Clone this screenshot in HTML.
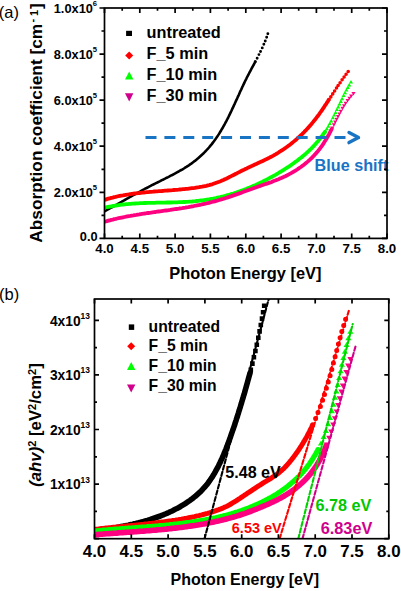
<!DOCTYPE html>
<html><head><meta charset="utf-8"><style>
html,body{margin:0;padding:0;background:#fff;}
svg{display:block;}
</style></head><body>
<svg width="401" height="591" viewBox="0 0 401 591">
<rect width="401" height="591" fill="#fff"/>
<defs><clipPath id="ca"><rect x="104.5" y="8.0" width="282.5" height="230.4"/></clipPath></defs>
<g clip-path="url(#ca)" fill="none" stroke-linecap="round" stroke-linejoin="round">
<path d="M104.5,211.3 L105.8,210.6 L107.1,209.9 L108.5,209.2 L109.8,208.4 L111.1,207.7 L112.4,207.0 L113.7,206.3 L115.0,205.5 L116.3,204.8 L117.6,204.1 L118.9,203.3 L120.2,202.6 L121.5,201.9 L122.8,201.1 L124.1,200.4 L125.4,199.6 L126.7,198.9 L128.0,198.2 L129.3,197.4 L130.7,196.7 L132.0,195.9 L133.3,195.2 L134.6,194.5 L135.9,193.7 L137.2,193.0 L138.6,192.3 L139.9,191.6 L141.2,190.8 L142.5,190.1 L143.9,189.4 L145.2,188.7 L146.6,188.0 L147.9,187.3 L149.2,186.6 L150.6,185.9 L151.9,185.2 L153.3,184.5 L154.6,183.8 L156.0,183.1 L157.3,182.5 L158.7,181.8 L160.1,181.1 L161.4,180.4 L162.8,179.8 L164.1,179.1 L165.5,178.4 L166.8,177.7 L168.1,177.1 L169.5,176.4 L170.8,175.7 L172.2,175.0 L173.5,174.3 L174.8,173.6 L176.1,172.9 L177.4,172.2 L178.7,171.5 L180.0,170.7 L181.3,170.0 L182.6,169.3 L183.9,168.5 L185.1,167.7 L186.4,166.9 L187.6,166.1 L188.9,165.3 L190.1,164.4 L191.3,163.6 L192.5,162.7 L193.7,161.8 L194.9,160.9 L196.1,159.9 L197.2,159.0 L198.4,158.0 L199.5,157.0 L200.6,156.0 L201.7,155.0 L202.8,154.0 L203.9,153.0 L204.9,151.9 L205.9,150.8 L207.0,149.7 L208.0,148.6 L209.0,147.5 L209.9,146.4 L210.9,145.2 L211.8,144.1 L212.7,142.9 L213.6,141.7 L214.5,140.5 L215.4,139.3 L216.2,138.1 L217.1,136.8 L217.9,135.6 L218.7,134.4 L219.5,133.1 L220.3,131.8 L221.1,130.5 L221.8,129.2 L222.6,128.0 L223.3,126.6 L224.1,125.3 L224.8,124.0 L225.5,122.7 L226.2,121.4 L226.9,120.0 L227.6,118.7 L228.3,117.3 L228.9,116.0 L229.6,114.6 L230.3,113.2 L230.9,111.9 L231.6,110.5 L232.2,109.1 L232.9,107.7 L233.5,106.4 L234.1,105.0 L234.8,103.6 L235.4,102.2 L236.0,100.8 L236.7,99.4 L237.3,98.1 L237.9,96.7 L238.6,95.3 L239.2,93.9 L239.8,92.5 L240.4,91.1 L241.1,89.8 L241.7,88.4 L242.3,87.0 L243.0,85.6 L243.6,84.3 L244.3,82.9 L244.9,81.5 L245.6,80.2 L246.3,78.8 L246.9,77.5 L247.6,76.2 L248.3,74.8 L249.0,73.5 L249.7,72.2 L250.4,70.9 L251.1,69.5 L251.8,68.2 L252.5,66.9 L253.2,65.6 L253.9,64.3 L254.6,63.0 L255.3,61.7" stroke="#000000" stroke-width="2.6"/><path d="M253.8,61.7a1.45,1.45 0 1,0 2.90,0a1.45,1.45 0 1,0 -2.90,0M255.7,58.2a1.45,1.45 0 1,0 2.90,0a1.45,1.45 0 1,0 -2.90,0M257.5,54.6a1.45,1.45 0 1,0 2.90,0a1.45,1.45 0 1,0 -2.90,0M259.1,51.5a1.45,1.45 0 1,0 2.90,0a1.45,1.45 0 1,0 -2.90,0M260.8,47.9a1.45,1.45 0 1,0 2.90,0a1.45,1.45 0 1,0 -2.90,0M262.4,44.3a1.45,1.45 0 1,0 2.90,0a1.45,1.45 0 1,0 -2.90,0M263.8,41.0a1.45,1.45 0 1,0 2.90,0a1.45,1.45 0 1,0 -2.90,0M265.2,37.2a1.45,1.45 0 1,0 2.90,0a1.45,1.45 0 1,0 -2.90,0M266.4,33.8a1.45,1.45 0 1,0 2.90,0a1.45,1.45 0 1,0 -2.90,0" fill="#000000" stroke="none"/>
<path d="M104.0,200.0 L105.5,199.6 L106.9,199.1 L108.3,198.7 L109.8,198.3 L111.2,197.9 L112.7,197.6 L114.1,197.2 L115.6,196.9 L117.0,196.5 L118.5,196.2 L120.0,195.9 L121.4,195.6 L122.9,195.4 L124.4,195.1 L125.9,194.8 L127.4,194.6 L128.8,194.4 L130.3,194.1 L131.8,193.9 L133.3,193.7 L134.8,193.5 L136.3,193.3 L137.8,193.1 L139.3,193.0 L140.8,192.8 L142.3,192.6 L143.8,192.5 L145.3,192.3 L146.8,192.2 L148.3,192.1 L149.8,191.9 L151.4,191.8 L152.9,191.7 L154.4,191.5 L155.9,191.4 L157.4,191.3 L158.9,191.2 L160.4,191.1 L161.9,191.0 L163.4,190.8 L164.9,190.7 L166.4,190.6 L167.9,190.5 L169.5,190.4 L171.0,190.3 L172.5,190.2 L174.0,190.0 L175.5,189.9 L177.0,189.8 L178.5,189.7 L179.9,189.5 L181.4,189.4 L182.9,189.2 L184.4,189.1 L185.9,188.9 L187.4,188.8 L188.9,188.6 L190.3,188.4 L191.8,188.2 L193.3,188.1 L194.7,187.9 L196.2,187.6 L197.7,187.4 L199.1,187.2 L200.6,186.9 L202.0,186.7 L203.5,186.4 L204.9,186.1 L206.3,185.8 L207.8,185.4 L209.2,185.1 L210.6,184.7 L212.1,184.3 L213.5,183.8 L214.9,183.3 L216.3,182.8 L217.7,182.3 L219.1,181.8 L220.6,181.2 L222.0,180.6 L223.4,180.0 L224.8,179.3 L226.2,178.7 L227.6,178.0 L228.9,177.3 L230.3,176.6 L231.7,175.9 L233.1,175.2 L234.5,174.5 L235.9,173.8 L237.2,173.1 L238.6,172.4 L240.0,171.7 L241.3,171.0 L242.7,170.3 L244.1,169.7 L245.4,169.0 L246.8,168.4 L248.1,167.7 L249.5,167.1 L250.8,166.4 L252.2,165.8 L253.5,165.2 L254.8,164.6 L256.2,164.0 L257.5,163.3 L258.8,162.7 L260.2,162.1 L261.5,161.5 L262.8,160.9 L264.1,160.3 L265.5,159.6 L266.8,159.0 L268.1,158.3 L269.4,157.7 L270.7,157.0 L272.0,156.3 L273.3,155.6 L274.6,154.8 L275.9,154.1 L277.2,153.3 L278.5,152.5 L279.7,151.7 L281.0,150.9 L282.2,150.1 L283.5,149.3 L284.7,148.4 L286.0,147.6 L287.2,146.7 L288.4,145.8 L289.6,144.9 L290.8,144.0 L292.0,143.0 L293.1,142.1 L294.3,141.1 L295.4,140.2 L296.6,139.2 L297.7,138.2 L298.8,137.2 L299.9,136.2 L301.0,135.1 L302.1,134.1 L303.1,133.1 L304.2,132.0 L305.2,130.9 L306.3,129.8 L307.3,128.7 L308.3,127.6 L309.3,126.5 L310.3,125.4 L311.3,124.2 L312.2,123.1 L313.2,121.9 L314.1,120.7 L315.1,119.6 L316.0,118.4 L316.9,117.2 L317.8,116.0 L318.7,114.8 L319.6,113.5 L320.4,112.3 L321.3,111.1 L322.2,109.8 L323.0,108.6 L323.9,107.4 L324.7,106.1 L325.5,104.8 L326.4,103.6 L327.2,102.3 L328.0,101.1 L328.8,99.8" stroke="#ff0000" stroke-width="3.8"/><path d="M327.0,99.8a1.80,1.80 0 1,0 3.60,0a1.80,1.80 0 1,0 -3.60,0M329.0,96.9a1.80,1.80 0 1,0 3.60,0a1.80,1.80 0 1,0 -3.60,0M330.9,93.9a1.80,1.80 0 1,0 3.60,0a1.80,1.80 0 1,0 -3.60,0M332.8,91.0a1.80,1.80 0 1,0 3.60,0a1.80,1.80 0 1,0 -3.60,0M334.7,88.0a1.80,1.80 0 1,0 3.60,0a1.80,1.80 0 1,0 -3.60,0M336.3,85.5a1.80,1.80 0 1,0 3.60,0a1.80,1.80 0 1,0 -3.60,0M338.3,82.7a1.80,1.80 0 1,0 3.60,0a1.80,1.80 0 1,0 -3.60,0M340.3,79.8a1.80,1.80 0 1,0 3.60,0a1.80,1.80 0 1,0 -3.60,0M342.3,77.0a1.80,1.80 0 1,0 3.60,0a1.80,1.80 0 1,0 -3.60,0M344.3,74.2a1.80,1.80 0 1,0 3.60,0a1.80,1.80 0 1,0 -3.60,0M346.4,71.5a1.80,1.80 0 1,0 3.60,0a1.80,1.80 0 1,0 -3.60,0" fill="#ff0000" stroke="none"/>
<path d="M103.9,207.9 L105.3,207.5 L106.8,207.2 L108.3,206.9 L109.8,206.6 L111.3,206.3 L112.7,206.0 L114.2,205.8 L115.7,205.5 L117.2,205.3 L118.7,205.1 L120.2,204.9 L121.7,204.7 L123.2,204.5 L124.7,204.4 L126.2,204.2 L127.7,204.1 L129.2,203.9 L130.7,203.8 L132.2,203.7 L133.7,203.6 L135.2,203.5 L136.7,203.4 L138.2,203.3 L139.7,203.2 L141.2,203.2 L142.7,203.1 L144.2,203.0 L145.7,203.0 L147.2,202.9 L148.7,202.9 L150.2,202.9 L151.7,202.8 L153.2,202.8 L154.7,202.8 L156.2,202.7 L157.8,202.7 L159.3,202.7 L160.8,202.7 L162.3,202.6 L163.8,202.6 L165.3,202.6 L166.8,202.5 L168.3,202.5 L169.8,202.5 L171.3,202.5 L172.8,202.4 L174.3,202.4 L175.8,202.3 L177.3,202.3 L178.8,202.2 L180.3,202.2 L181.8,202.1 L183.3,202.0 L184.8,202.0 L186.3,201.9 L187.8,201.8 L189.3,201.7 L190.8,201.6 L192.3,201.5 L193.8,201.3 L195.3,201.2 L196.8,201.0 L198.2,200.9 L199.7,200.7 L201.2,200.5 L202.7,200.3 L204.2,200.1 L205.6,199.9 L207.1,199.7 L208.6,199.5 L210.1,199.2 L211.5,198.9 L213.0,198.7 L214.5,198.4 L215.9,198.1 L217.4,197.7 L218.8,197.4 L220.3,197.1 L221.8,196.7 L223.2,196.4 L224.7,196.0 L226.1,195.6 L227.5,195.2 L229.0,194.8 L230.4,194.4 L231.9,193.9 L233.3,193.5 L234.7,193.0 L236.1,192.6 L237.6,192.1 L239.0,191.6 L240.4,191.1 L241.8,190.6 L243.2,190.1 L244.6,189.5 L246.0,189.0 L247.4,188.4 L248.8,187.9 L250.2,187.3 L251.6,186.7 L253.0,186.1 L254.4,185.5 L255.8,184.9 L257.1,184.3 L258.5,183.6 L259.9,183.0 L261.2,182.3 L262.6,181.7 L263.9,181.0 L265.3,180.3 L266.6,179.6 L268.0,178.9 L269.3,178.2 L270.6,177.5 L272.0,176.8 L273.3,176.0 L274.6,175.3 L275.9,174.6 L277.2,173.8 L278.5,173.0 L279.8,172.2 L281.1,171.5 L282.4,170.7 L283.7,169.9 L285.0,169.0 L286.3,168.2 L287.5,167.4 L288.8,166.6 L290.1,165.7 L291.3,164.9 L292.5,164.0 L293.8,163.1 L295.0,162.2 L296.2,161.4 L297.4,160.5 L298.6,159.5 L299.8,158.6 L301.0,157.7 L302.2,156.7 L303.3,155.8 L304.4,154.8 L305.6,153.9 L306.7,152.9 L307.8,151.9 L308.9,150.9 L309.9,149.8 L311.0,148.8 L312.0,147.8 L313.1,146.7 L314.1,145.6 L315.1,144.5 L316.1,143.4 L317.0,142.3 L318.0,141.2 L318.9,140.1 L319.8,138.9 L320.7,137.7 L321.6,136.5 L322.5,135.3 L323.3,134.1 L324.2,132.9 L325.0,131.7" stroke="#00ff00" stroke-width="3.8"/><path d="M325.0,129.8L327.1,133.2L322.9,133.2ZM326.8,126.8L328.9,130.2L324.7,130.2ZM328.3,124.2L330.4,127.7L326.2,127.7ZM329.8,121.6L331.9,125.1L327.7,125.1ZM331.2,119.0L333.3,122.4L329.1,122.4ZM332.9,115.9L334.9,119.3L330.8,119.3ZM334.2,113.2L336.3,116.6L332.1,116.6ZM335.6,110.4L337.6,113.9L333.5,113.9ZM336.9,107.7L339.0,111.1L334.8,111.1ZM338.2,105.0L340.3,108.4L336.1,108.4ZM339.5,102.2L341.6,105.6L337.4,105.6ZM340.8,99.5L342.9,102.9L338.7,102.9ZM342.1,96.8L344.2,100.2L340.0,100.2ZM343.6,93.6L345.7,97.0L341.5,97.0ZM345.0,90.9L347.1,94.3L342.9,94.3ZM346.4,88.2L348.4,91.6L344.3,91.6ZM347.8,85.6L349.9,89.0L345.7,89.0ZM349.2,83.0L351.3,86.4L347.1,86.4ZM351.0,80.0L353.0,83.4L348.9,83.4Z" fill="#00ff00" stroke="none"/>
<path d="M104.1,221.9 L105.5,221.5 L107.0,221.1 L108.4,220.7 L109.9,220.3 L111.3,219.9 L112.8,219.6 L114.2,219.2 L115.7,218.9 L117.2,218.5 L118.6,218.2 L120.1,217.9 L121.6,217.6 L123.0,217.3 L124.5,217.0 L126.0,216.7 L127.4,216.4 L128.9,216.1 L130.4,215.9 L131.9,215.6 L133.3,215.4 L134.8,215.1 L136.3,214.9 L137.8,214.6 L139.3,214.4 L140.7,214.1 L142.2,213.9 L143.7,213.7 L145.2,213.5 L146.7,213.2 L148.1,213.0 L149.6,212.8 L151.1,212.6 L152.6,212.4 L154.1,212.2 L155.6,212.0 L157.0,211.7 L158.5,211.5 L160.0,211.3 L161.5,211.1 L163.0,210.9 L164.5,210.7 L166.0,210.5 L167.5,210.3 L168.9,210.1 L170.4,209.9 L171.9,209.6 L173.4,209.4 L174.9,209.2 L176.4,209.0 L177.8,208.8 L179.3,208.5 L180.8,208.3 L182.3,208.1 L183.8,207.8 L185.3,207.6 L186.7,207.3 L188.2,207.1 L189.7,206.8 L191.2,206.5 L192.7,206.3 L194.1,206.0 L195.6,205.7 L197.1,205.4 L198.6,205.1 L200.1,204.8 L201.5,204.5 L203.0,204.1 L204.5,203.8 L205.9,203.5 L207.4,203.1 L208.9,202.8 L210.4,202.4 L211.8,202.0 L213.3,201.7 L214.8,201.3 L216.2,200.9 L217.7,200.5 L219.1,200.0 L220.6,199.6 L222.0,199.2 L223.5,198.7 L225.0,198.3 L226.4,197.8 L227.9,197.4 L229.3,196.9 L230.8,196.4 L232.2,195.9 L233.6,195.4 L235.1,194.9 L236.5,194.4 L238.0,193.9 L239.4,193.4 L240.8,192.9 L242.3,192.3 L243.7,191.8 L245.1,191.3 L246.5,190.8 L248.0,190.2 L249.4,189.7 L250.8,189.2 L252.2,188.7 L253.6,188.2 L255.0,187.7 L256.4,187.2 L257.8,186.7 L259.2,186.2 L260.6,185.8 L262.0,185.3 L263.4,184.8 L264.8,184.3 L266.2,183.8 L267.6,183.4 L269.0,182.9 L270.4,182.4 L271.7,181.9 L273.1,181.3 L274.5,180.8 L275.9,180.3 L277.2,179.7 L278.6,179.2 L279.9,178.6 L281.3,178.0 L282.6,177.4 L284.0,176.8 L285.3,176.2 L286.7,175.5 L288.0,174.8 L289.3,174.1 L290.7,173.4 L292.0,172.7 L293.3,171.9 L294.6,171.1 L295.9,170.3 L297.2,169.5 L298.4,168.7 L299.7,167.8 L300.9,167.0 L302.1,166.1 L303.3,165.2 L304.5,164.3 L305.7,163.3 L306.8,162.4 L308.0,161.4 L309.1,160.4 L310.2,159.4 L311.3,158.3 L312.3,157.3 L313.4,156.2 L314.4,155.1 L315.4,154.0 L316.4,152.9 L317.4,151.8 L318.3,150.6 L319.2,149.5 L320.1,148.3 L321.0,147.1 L321.9,145.9 L322.8,144.6 L323.6,143.4 L324.4,142.1 L325.2,140.8 L326.0,139.6 L326.8,138.2 L327.5,136.9 L328.3,135.6 L329.0,134.3 L329.7,132.9 L330.4,131.6 L331.1,130.2 L331.8,128.9" stroke="#ff0080" stroke-width="3.8"/><path d="M332.3,129.9L334.4,126.4L330.2,126.4ZM333.9,126.7L336.0,123.2L331.8,123.2ZM335.2,123.9L337.3,120.5L333.1,120.5ZM336.6,121.2L338.7,117.8L334.5,117.8ZM338.0,118.5L340.1,115.1L335.9,115.1ZM339.4,115.8L341.5,112.4L337.3,112.4ZM340.8,113.2L342.9,109.8L338.7,109.8ZM342.5,110.2L344.6,106.8L340.4,106.8ZM344.0,107.7L346.1,104.2L342.0,104.2ZM345.6,105.2L347.7,101.8L343.6,101.8ZM347.6,102.4L349.7,99.0L345.5,99.0ZM349.4,100.1L351.4,96.7L347.3,96.7ZM351.2,97.9L353.3,94.5L349.1,94.5ZM353.5,95.5L355.6,92.1L351.4,92.1Z" fill="#ff0080" stroke="none"/>
</g>
<line x1="145.5" y1="137.5" x2="346" y2="137.5" stroke="#1a74c4" stroke-width="3.2" stroke-dasharray="11 7.9"/>
<polyline points="349,132.6 358.5,137.6 349,142.6" fill="none" stroke="#1a74c4" stroke-width="3.4" stroke-linecap="round" stroke-linejoin="round"/>
<text x="314.6" y="171.3" font-family="Liberation Sans, sans-serif" font-size="16.2" font-weight="bold" fill="#1a74c4">Blue shift</text>
<g stroke="#000" stroke-width="1.7" fill="none">
<rect x="104.5" y="8.0" width="282.5" height="230.4"/>
<path d="M104.5,238.4v-5.0 M104.5,8.0v5.0 M122.2,238.4v-2.7 M122.2,8.0v2.7 M139.8,238.4v-5.0 M139.8,8.0v5.0 M157.5,238.4v-2.7 M157.5,8.0v2.7 M175.1,238.4v-5.0 M175.1,8.0v5.0 M192.8,238.4v-2.7 M192.8,8.0v2.7 M210.4,238.4v-5.0 M210.4,8.0v5.0 M228.1,238.4v-2.7 M228.1,8.0v2.7 M245.8,238.4v-5.0 M245.8,8.0v5.0 M263.4,238.4v-2.7 M263.4,8.0v2.7 M281.1,238.4v-5.0 M281.1,8.0v5.0 M298.7,238.4v-2.7 M298.7,8.0v2.7 M316.4,238.4v-5.0 M316.4,8.0v5.0 M334.0,238.4v-2.7 M334.0,8.0v2.7 M351.7,238.4v-5.0 M351.7,8.0v5.0 M369.3,238.4v-2.7 M369.3,8.0v2.7 M387.0,238.4v-5.0 M387.0,8.0v5.0 M104.5,238.4h-5.0 M387.0,238.4h-5.0 M104.5,215.4h-3.0 M387.0,215.4h-3.0 M104.5,192.3h-5.0 M387.0,192.3h-5.0 M104.5,169.3h-3.0 M387.0,169.3h-3.0 M104.5,146.2h-5.0 M387.0,146.2h-5.0 M104.5,123.2h-3.0 M387.0,123.2h-3.0 M104.5,100.2h-5.0 M387.0,100.2h-5.0 M104.5,77.1h-3.0 M387.0,77.1h-3.0 M104.5,54.1h-5.0 M387.0,54.1h-5.0 M104.5,31.0h-3.0 M387.0,31.0h-3.0 M104.5,8.0h-5.0 M387.0,8.0h-5.0"/>
</g>
<text x="104.5" y="252.9" font-family="Liberation Sans, sans-serif" font-size="13.3" font-weight="bold" text-anchor="middle">4.0</text>
<text x="139.8" y="252.9" font-family="Liberation Sans, sans-serif" font-size="13.3" font-weight="bold" text-anchor="middle">4.5</text>
<text x="175.1" y="252.9" font-family="Liberation Sans, sans-serif" font-size="13.3" font-weight="bold" text-anchor="middle">5.0</text>
<text x="210.4" y="252.9" font-family="Liberation Sans, sans-serif" font-size="13.3" font-weight="bold" text-anchor="middle">5.5</text>
<text x="245.8" y="252.9" font-family="Liberation Sans, sans-serif" font-size="13.3" font-weight="bold" text-anchor="middle">6.0</text>
<text x="281.1" y="252.9" font-family="Liberation Sans, sans-serif" font-size="13.3" font-weight="bold" text-anchor="middle">6.5</text>
<text x="316.4" y="252.9" font-family="Liberation Sans, sans-serif" font-size="13.3" font-weight="bold" text-anchor="middle">7.0</text>
<text x="351.7" y="252.9" font-family="Liberation Sans, sans-serif" font-size="13.3" font-weight="bold" text-anchor="middle">7.5</text>
<text x="387.0" y="252.9" font-family="Liberation Sans, sans-serif" font-size="13.3" font-weight="bold" text-anchor="middle">8.0</text>
<text x="97.6" y="240.8" font-family="Liberation Sans, sans-serif" font-size="12.8" font-weight="bold" text-anchor="end">0.0</text>
<text x="92.9" y="196.8" font-family="Liberation Sans, sans-serif" font-size="12.8" font-weight="bold" text-anchor="end">2.0x10</text>
<text x="92.8" y="190.0" font-family="Liberation Sans, sans-serif" font-size="7.6" font-weight="bold">5</text>
<text x="92.9" y="150.7" font-family="Liberation Sans, sans-serif" font-size="12.8" font-weight="bold" text-anchor="end">4.0x10</text>
<text x="92.8" y="143.9" font-family="Liberation Sans, sans-serif" font-size="7.6" font-weight="bold">5</text>
<text x="92.9" y="104.7" font-family="Liberation Sans, sans-serif" font-size="12.8" font-weight="bold" text-anchor="end">6.0x10</text>
<text x="92.8" y="97.9" font-family="Liberation Sans, sans-serif" font-size="7.6" font-weight="bold">5</text>
<text x="92.9" y="58.6" font-family="Liberation Sans, sans-serif" font-size="12.8" font-weight="bold" text-anchor="end">8.0x10</text>
<text x="92.8" y="51.8" font-family="Liberation Sans, sans-serif" font-size="7.6" font-weight="bold">5</text>
<text x="92.9" y="12.5" font-family="Liberation Sans, sans-serif" font-size="12.8" font-weight="bold" text-anchor="end">1.0x10</text>
<text x="92.8" y="5.7" font-family="Liberation Sans, sans-serif" font-size="7.6" font-weight="bold">6</text>
<text x="245.4" y="278.6" font-family="Liberation Sans, sans-serif" font-size="16.4" font-weight="bold" text-anchor="middle">Photon Energy [eV]</text>
<text transform="translate(42.1,242.7) rotate(-90)" font-family="Liberation Sans, sans-serif" font-size="17.3" font-weight="bold">Absorption coefficient [cm<tspan font-size="11" dx="1.2" dy="-6">-</tspan><tspan font-size="10.8" dx="3" dy="2">1</tspan><tspan dx="1" dy="4">]</tspan></text>
<text x="-1.2" y="17.6" font-family="Liberation Sans, sans-serif" font-size="16.5">(a)</text>
<rect x="126.1" y="30.8" width="5.9" height="5.2" fill="#000"/>
<path d="M129.2,51.5 L133.2,55.5 L129.2,59.5 L125.2,55.5Z" fill="#ff0000"/>
<path d="M129.2,71.5 L133.4,79.5 L125,79.5Z" fill="#00ff00"/>
<path d="M125,93.2 L133.4,93.2 L129.2,101.4Z" fill="#d0008c"/>
<text x="146.6" y="37.7" font-family="Liberation Sans, sans-serif" font-size="16.3" font-weight="bold">untreated</text>
<text x="146.6" y="58.9" font-family="Liberation Sans, sans-serif" font-size="16.3" font-weight="bold">F_5 min</text>
<text x="146.6" y="80.2" font-family="Liberation Sans, sans-serif" font-size="16.3" font-weight="bold">F_10 min</text>
<text x="146.6" y="100.9" font-family="Liberation Sans, sans-serif" font-size="16.3" font-weight="bold">F_30 min</text>
<svg x="0" y="0" width="401" height="591" overflow="visible">
<defs><clipPath id="cb"><rect x="94.5" y="299.0" width="294.3" height="239.7"/></clipPath></defs>
<g clip-path="url(#cb)" fill="none" stroke-linecap="round" stroke-linejoin="round">
<path d="M94.6,531.0 L96.0,530.8 L97.5,530.6 L98.9,530.3 L100.4,530.1 L101.9,529.9 L103.3,529.7 L104.8,529.4 L106.3,529.2 L107.7,529.0 L109.2,528.7 L110.7,528.5 L112.2,528.2 L113.6,528.0 L115.1,527.7 L116.6,527.5 L118.1,527.2 L119.5,526.9 L121.0,526.6 L122.5,526.4 L124.0,526.1 L125.5,525.8 L126.9,525.5 L128.4,525.2 L129.9,524.8 L131.3,524.5 L132.8,524.2 L134.3,523.8 L135.8,523.5 L137.2,523.1 L138.7,522.8 L140.2,522.4 L141.6,522.0 L143.1,521.6 L144.5,521.2 L146.0,520.8 L147.4,520.4 L148.9,519.9 L150.3,519.5 L151.8,519.0 L153.2,518.5 L154.7,518.0 L156.1,517.5 L157.5,517.0 L159.0,516.5 L160.4,516.0 L161.8,515.4 L163.2,514.9 L164.6,514.3 L166.0,513.7 L167.4,513.1 L168.8,512.5 L170.2,511.8 L171.6,511.2 L173.0,510.5 L174.3,509.8 L175.7,509.1 L177.0,508.4 L178.4,507.7 L179.7,507.0 L181.0,506.2 L182.3,505.4 L183.6,504.6 L184.9,503.8 L186.2,503.0 L187.4,502.2 L188.7,501.3 L189.9,500.5 L191.1,499.6 L192.3,498.7 L193.5,497.8 L194.6,496.8 L195.8,495.9 L196.9,494.9 L198.0,493.9 L199.1,492.9 L200.2,491.9 L201.2,490.9 L202.2,489.8 L203.2,488.7 L204.2,487.6 L205.2,486.5 L206.1,485.4 L207.1,484.3 L208.0,483.1 L208.8,481.9 L209.7,480.7 L210.5,479.5 L211.3,478.3 L212.2,477.1 L212.9,475.8 L213.7,474.6 L214.5,473.3 L215.2,472.0 L215.9,470.7 L216.6,469.4 L217.3,468.1 L218.0,466.8 L218.7,465.5 L219.3,464.1 L220.0,462.8 L220.6,461.4 L221.2,460.1 L221.9,458.7 L222.5,457.3 L223.1,455.9 L223.7,454.6 L224.2,453.2 L224.8,451.8 L225.4,450.4 L226.0,449.0 L226.5,447.6 L227.1,446.2 L227.6,444.7 L228.1,443.3 L228.7,441.9 L229.2,440.5 L229.7,439.0 L230.2,437.6 L230.7,436.2 L231.2,434.7 L231.7,433.3 L232.2,431.9 L232.7,430.4 L233.2,429.0 L233.7,427.6 L234.2,426.1 L234.7,424.7 L235.1,423.2 L235.6,421.8 L236.1,420.3 L236.5,418.9 L237.0,417.5 L237.5,416.0 L237.9,414.6 L238.4,413.1 L238.8,411.7 L239.3,410.2 L239.7,408.8 L240.2,407.4 L240.6,405.9 L241.0,404.5 L241.5,403.0 L241.9,401.6 L242.3,400.2 L242.8,398.7 L243.2,397.3 L243.6,395.8 L244.1,394.4 L244.5,393.0 L244.9,391.5 L245.3,390.1 L245.7,388.6 L246.1,387.2 L246.5,385.7 L246.9,384.3 L247.3,382.9 L247.7,381.4 L248.1,380.0 L248.5,378.5 L248.9,377.1 L249.3,375.6 L249.7,374.2 L250.1,372.8" stroke="#000000" stroke-width="5.6"/><path d="M248.5,367.6h4.60v4.60h-4.60ZM250.1,361.3h4.60v4.60h-4.60ZM251.6,355.0h4.60v4.60h-4.60ZM253.1,348.7h4.60v4.60h-4.60ZM254.5,342.4h4.60v4.60h-4.60ZM256.0,335.5h4.60v4.60h-4.60ZM257.3,329.1h4.60v4.60h-4.60ZM258.5,322.7h4.60v4.60h-4.60ZM259.7,316.3h4.60v4.60h-4.60ZM260.8,309.9h4.60v4.60h-4.60ZM261.9,303.4h4.60v4.60h-4.60Z" fill="#000000" stroke="none"/>
<path d="M94.5,529.5 L96.0,529.3 L97.4,529.2 L98.9,529.0 L100.3,528.8 L101.8,528.6 L103.2,528.5 L104.7,528.3 L106.2,528.1 L107.6,528.0 L109.1,527.8 L110.6,527.7 L112.1,527.5 L113.5,527.3 L115.0,527.2 L116.5,527.0 L118.0,526.9 L119.5,526.7 L121.0,526.6 L122.5,526.4 L124.0,526.3 L125.5,526.1 L127.0,526.0 L128.5,525.8 L130.0,525.7 L131.5,525.5 L133.0,525.4 L134.5,525.2 L136.0,525.1 L137.6,524.9 L139.1,524.7 L140.6,524.6 L142.1,524.4 L143.6,524.3 L145.1,524.1 L146.7,523.9 L148.2,523.8 L149.7,523.6 L151.2,523.4 L152.7,523.2 L154.2,523.1 L155.7,522.9 L157.3,522.7 L158.8,522.5 L160.3,522.3 L161.8,522.1 L163.3,521.9 L164.8,521.7 L166.3,521.5 L167.8,521.3 L169.3,521.1 L170.8,520.9 L172.3,520.6 L173.8,520.4 L175.3,520.2 L176.8,519.9 L178.3,519.7 L179.8,519.4 L181.3,519.2 L182.8,518.9 L184.3,518.6 L185.8,518.4 L187.2,518.1 L188.7,517.8 L190.2,517.5 L191.7,517.2 L193.1,516.9 L194.6,516.6 L196.0,516.2 L197.5,515.9 L198.9,515.6 L200.4,515.2 L201.8,514.9 L203.3,514.5 L204.7,514.1 L206.1,513.7 L207.5,513.4 L209.0,513.0 L210.4,512.5 L211.8,512.1 L213.2,511.7 L214.6,511.2 L216.0,510.7 L217.4,510.2 L218.8,509.7 L220.1,509.2 L221.5,508.6 L222.9,508.1 L224.2,507.4 L225.6,506.8 L226.9,506.2 L228.3,505.5 L229.6,504.8 L230.9,504.0 L232.2,503.2 L233.5,502.4 L234.8,501.6 L236.1,500.8 L237.4,500.0 L238.7,499.1 L240.0,498.3 L241.3,497.4 L242.5,496.6 L243.8,495.7 L245.0,494.9 L246.3,494.1 L247.5,493.2 L248.8,492.4 L250.0,491.6 L251.2,490.8 L252.5,489.9 L253.7,489.1 L254.9,488.3 L256.2,487.5 L257.4,486.7 L258.6,485.9 L259.9,485.1 L261.1,484.3 L262.4,483.5 L263.7,482.7 L264.9,481.9 L266.2,481.2 L267.5,480.4 L268.8,479.6 L270.1,478.8 L271.4,478.0 L272.6,477.2 L273.9,476.4 L275.1,475.5 L276.4,474.7 L277.6,473.8 L278.8,472.9 L279.9,471.9 L281.1,470.9 L282.2,469.9 L283.3,468.9 L284.3,467.9 L285.4,466.8 L286.4,465.7 L287.4,464.6 L288.4,463.5 L289.4,462.3 L290.3,461.2 L291.3,460.0 L292.2,458.8 L293.1,457.7 L294.0,456.5 L294.9,455.3 L295.8,454.0 L296.7,452.8 L297.5,451.6 L298.4,450.4 L299.2,449.1 L300.0,447.9 L300.8,446.6 L301.6,445.4 L302.4,444.1 L303.2,442.8 L303.9,441.5 L304.7,440.3 L305.4,439.0 L306.2,437.7 L306.9,436.4 L307.6,435.0 L308.3,433.7 L309.0,432.4 L309.7,431.1 L310.3,429.7 L311.0,428.4 L311.7,427.1 L312.3,425.7" stroke="#ff0000" stroke-width="5.0"/><path d="M310.2,424.8a2.50,2.50 0 1,0 5.00,0a2.50,2.50 0 1,0 -5.00,0M313.1,418.4a2.50,2.50 0 1,0 5.00,0a2.50,2.50 0 1,0 -5.00,0M315.5,412.4a2.50,2.50 0 1,0 5.00,0a2.50,2.50 0 1,0 -5.00,0M317.9,406.4a2.50,2.50 0 1,0 5.00,0a2.50,2.50 0 1,0 -5.00,0M320.1,400.2a2.50,2.50 0 1,0 5.00,0a2.50,2.50 0 1,0 -5.00,0M322.0,394.5a2.50,2.50 0 1,0 5.00,0a2.50,2.50 0 1,0 -5.00,0M323.9,388.3a2.50,2.50 0 1,0 5.00,0a2.50,2.50 0 1,0 -5.00,0M325.8,382.0a2.50,2.50 0 1,0 5.00,0a2.50,2.50 0 1,0 -5.00,0M327.6,375.7a2.50,2.50 0 1,0 5.00,0a2.50,2.50 0 1,0 -5.00,0M329.3,369.4a2.50,2.50 0 1,0 5.00,0a2.50,2.50 0 1,0 -5.00,0M330.9,363.0a2.50,2.50 0 1,0 5.00,0a2.50,2.50 0 1,0 -5.00,0M332.6,356.7a2.50,2.50 0 1,0 5.00,0a2.50,2.50 0 1,0 -5.00,0M334.2,350.4a2.50,2.50 0 1,0 5.00,0a2.50,2.50 0 1,0 -5.00,0M335.9,344.1a2.50,2.50 0 1,0 5.00,0a2.50,2.50 0 1,0 -5.00,0M337.6,337.8a2.50,2.50 0 1,0 5.00,0a2.50,2.50 0 1,0 -5.00,0M339.3,331.6a2.50,2.50 0 1,0 5.00,0a2.50,2.50 0 1,0 -5.00,0M341.2,325.4a2.50,2.50 0 1,0 5.00,0a2.50,2.50 0 1,0 -5.00,0M343.1,319.2a2.50,2.50 0 1,0 5.00,0a2.50,2.50 0 1,0 -5.00,0" fill="#ff0000" stroke="none"/>
<path d="M94.7,531.1 L96.2,530.9 L97.6,530.8 L99.0,530.6 L100.5,530.5 L101.9,530.4 L103.4,530.2 L104.8,530.1 L106.3,530.0 L107.8,529.8 L109.2,529.7 L110.7,529.6 L112.2,529.5 L113.6,529.3 L115.1,529.2 L116.6,529.1 L118.1,529.0 L119.6,528.9 L121.0,528.8 L122.5,528.6 L124.0,528.5 L125.5,528.4 L127.0,528.3 L128.5,528.2 L130.0,528.1 L131.5,528.0 L133.0,527.9 L134.5,527.8 L136.0,527.6 L137.5,527.5 L139.0,527.4 L140.5,527.3 L142.0,527.2 L143.5,527.1 L145.0,527.0 L146.5,526.9 L148.0,526.7 L149.5,526.6 L151.1,526.5 L152.6,526.4 L154.1,526.3 L155.6,526.1 L157.1,526.0 L158.6,525.9 L160.1,525.7 L161.6,525.6 L163.2,525.5 L164.7,525.3 L166.2,525.2 L167.7,525.0 L169.2,524.9 L170.7,524.7 L172.2,524.6 L173.7,524.4 L175.3,524.2 L176.8,524.1 L178.3,523.9 L179.8,523.7 L181.3,523.5 L182.8,523.3 L184.3,523.1 L185.8,522.9 L187.3,522.7 L188.8,522.5 L190.3,522.3 L191.8,522.1 L193.3,521.9 L194.8,521.6 L196.3,521.4 L197.8,521.2 L199.3,520.9 L200.8,520.7 L202.3,520.4 L203.8,520.1 L205.3,519.9 L206.8,519.6 L208.3,519.3 L209.7,519.0 L211.2,518.7 L212.7,518.4 L214.2,518.1 L215.6,517.8 L217.1,517.4 L218.6,517.1 L220.0,516.7 L221.5,516.4 L223.0,516.0 L224.4,515.6 L225.9,515.3 L227.3,514.9 L228.8,514.5 L230.2,514.1 L231.7,513.6 L233.1,513.2 L234.5,512.8 L236.0,512.3 L237.4,511.9 L238.8,511.4 L240.2,510.9 L241.7,510.5 L243.1,510.0 L244.5,509.5 L245.9,508.9 L247.3,508.4 L248.7,507.9 L250.1,507.3 L251.5,506.8 L252.9,506.2 L254.2,505.6 L255.6,505.0 L257.0,504.4 L258.3,503.8 L259.7,503.2 L261.1,502.5 L262.4,501.9 L263.8,501.2 L265.1,500.5 L266.4,499.8 L267.8,499.1 L269.1,498.4 L270.4,497.7 L271.7,497.0 L273.0,496.2 L274.3,495.4 L275.6,494.7 L276.9,493.9 L278.1,493.0 L279.4,492.2 L280.7,491.4 L281.9,490.5 L283.1,489.7 L284.3,488.8 L285.6,487.9 L286.7,487.0 L287.9,486.1 L289.1,485.1 L290.3,484.2 L291.4,483.2 L292.5,482.2 L293.7,481.3 L294.8,480.2 L295.9,479.2 L297.0,478.2 L298.0,477.1 L299.1,476.1 L300.1,475.0 L301.1,473.9 L302.1,472.8 L303.1,471.7 L304.1,470.6 L305.1,469.4 L306.0,468.3 L306.9,467.1 L307.8,465.9 L308.7,464.7 L309.6,463.5 L310.4,462.3 L311.2,461.1 L312.1,459.9 L312.9,458.6 L313.6,457.3 L314.4,456.1 L315.1,454.8 L315.9,453.5 L316.6,452.2 L317.3,450.9 L318.0,449.6" stroke="#00ff00" stroke-width="5.2"/><path d="M318.0,446.8L321.0,451.8L314.9,451.8ZM321.0,440.5L324.0,445.6L317.9,445.6ZM323.7,434.1L326.7,439.1L320.6,439.1ZM325.9,428.0L329.0,433.0L322.8,433.0ZM328.1,421.3L331.2,426.3L325.1,426.3ZM330.0,415.0L333.1,420.0L326.9,420.0ZM331.9,408.1L334.9,413.2L328.8,413.2ZM333.4,401.7L336.5,406.8L330.4,406.8ZM335.0,394.8L338.1,399.8L331.9,399.8ZM336.4,388.4L339.5,393.4L333.3,393.4ZM337.8,381.9L340.8,387.0L334.7,387.0ZM339.2,375.0L342.2,380.1L336.1,380.1ZM340.6,368.2L343.7,373.2L337.5,373.2ZM341.9,361.8L345.0,366.8L338.8,366.8ZM343.4,355.0L346.5,360.0L340.3,360.0ZM344.9,348.7L348.0,353.7L341.8,353.7ZM346.6,342.0L349.6,347.0L343.5,347.0ZM348.4,335.3L351.5,340.3L345.3,340.3ZM350.4,328.7L353.5,333.7L347.3,333.7Z" fill="#00ff00" stroke="none"/>
<path d="M94.6,534.8 L96.1,534.6 L97.6,534.5 L99.0,534.4 L100.5,534.3 L102.0,534.2 L103.5,534.0 L104.9,533.9 L106.4,533.8 L107.9,533.7 L109.4,533.6 L110.9,533.5 L112.3,533.4 L113.8,533.3 L115.3,533.2 L116.8,533.1 L118.3,532.9 L119.8,532.8 L121.3,532.7 L122.8,532.6 L124.3,532.5 L125.7,532.4 L127.2,532.3 L128.7,532.2 L130.2,532.1 L131.7,532.0 L133.2,531.9 L134.7,531.8 L136.2,531.7 L137.7,531.5 L139.2,531.4 L140.7,531.3 L142.2,531.2 L143.7,531.1 L145.2,531.0 L146.7,530.8 L148.2,530.7 L149.7,530.6 L151.2,530.5 L152.7,530.3 L154.2,530.2 L155.7,530.1 L157.2,529.9 L158.8,529.8 L160.3,529.7 L161.8,529.5 L163.3,529.4 L164.8,529.2 L166.3,529.1 L167.8,528.9 L169.3,528.8 L170.8,528.6 L172.3,528.4 L173.8,528.3 L175.3,528.1 L176.8,527.9 L178.3,527.7 L179.8,527.5 L181.3,527.4 L182.8,527.2 L184.2,527.0 L185.7,526.8 L187.2,526.6 L188.7,526.3 L190.2,526.1 L191.7,525.9 L193.2,525.7 L194.7,525.5 L196.2,525.2 L197.7,525.0 L199.1,524.7 L200.6,524.5 L202.1,524.2 L203.6,524.0 L205.1,523.7 L206.6,523.4 L208.0,523.1 L209.5,522.8 L211.0,522.5 L212.5,522.2 L213.9,521.9 L215.4,521.6 L216.9,521.3 L218.3,521.0 L219.8,520.6 L221.3,520.3 L222.7,519.9 L224.2,519.6 L225.6,519.2 L227.1,518.8 L228.5,518.4 L230.0,518.0 L231.4,517.6 L232.9,517.2 L234.3,516.8 L235.8,516.4 L237.2,515.9 L238.7,515.5 L240.1,515.0 L241.5,514.5 L243.0,514.0 L244.4,513.6 L245.8,513.1 L247.2,512.5 L248.7,512.0 L250.1,511.5 L251.5,511.0 L252.9,510.4 L254.3,509.9 L255.7,509.3 L257.1,508.8 L258.5,508.2 L259.9,507.6 L261.3,507.0 L262.7,506.5 L264.1,505.9 L265.5,505.3 L266.9,504.7 L268.2,504.1 L269.6,503.5 L271.0,502.8 L272.3,502.2 L273.7,501.6 L275.0,500.9 L276.4,500.2 L277.7,499.6 L279.0,498.9 L280.3,498.2 L281.6,497.5 L282.9,496.7 L284.2,496.0 L285.5,495.2 L286.8,494.4 L288.0,493.7 L289.2,492.8 L290.5,492.0 L291.7,491.2 L292.9,490.3 L294.1,489.4 L295.3,488.5 L296.4,487.6 L297.6,486.7 L298.7,485.7 L299.9,484.8 L301.0,483.8 L302.1,482.8 L303.1,481.8 L304.2,480.7 L305.2,479.7 L306.3,478.6 L307.3,477.5 L308.3,476.4 L309.2,475.3 L310.2,474.2 L311.1,473.0 L312.0,471.8 L312.9,470.6 L313.8,469.4 L314.7,468.2 L315.5,467.0 L316.3,465.7 L317.1,464.5 L317.9,463.2 L318.6,461.9 L319.4,460.6 L320.1,459.3 L320.8,458.0 L321.5,456.6 L322.1,455.3 L322.8,453.9 L323.4,452.6 L324.1,451.2 L324.7,449.8 L325.3,448.4 L325.8,447.0 L326.4,445.6" stroke="#ff0080" stroke-width="5.6"/><path d="M326.8,447.4L329.8,442.4L323.7,442.4ZM329.2,440.7L332.3,435.7L326.1,435.7ZM331.2,434.4L334.3,429.4L328.2,429.4ZM333.2,427.6L336.3,422.6L330.2,422.6ZM335.0,421.2L338.0,416.2L331.9,416.2ZM336.7,414.4L339.8,409.4L333.6,409.4ZM338.2,408.1L341.3,403.1L335.1,403.1ZM339.8,401.4L342.9,396.3L336.7,396.3ZM341.4,394.6L344.5,389.6L338.3,389.6ZM342.9,388.4L346.0,383.4L339.8,383.4ZM344.6,381.7L347.7,376.6L341.5,376.6ZM346.4,374.9L349.5,369.9L343.3,369.9ZM348.2,368.7L351.3,363.6L345.1,363.6ZM350.3,361.9L353.4,356.9L347.3,356.9Z" fill="#ff0080" stroke="none"/>
<line x1="204.5" y1="538.7" x2="268.7" y2="299.0" stroke="#000" stroke-width="2.1" stroke-dasharray="4.2 2.3"/>
<line x1="279.6" y1="538.7" x2="348.8" y2="310.9" stroke="#ff0000" stroke-width="2.1" stroke-dasharray="4.2 2.3"/>
<line x1="298.3" y1="538.7" x2="352.7" y2="324.0" stroke="#00d000" stroke-width="2.1" stroke-dasharray="4.2 2.3"/>
<line x1="302.5" y1="538.7" x2="355.5" y2="346.4" stroke="#d0008c" stroke-width="2.1" stroke-dasharray="4.2 2.3"/>
</g>
</svg>
<g stroke="#000" stroke-width="1.7" fill="none">
<rect x="94.5" y="299.0" width="294.3" height="239.7"/>
<path d="M94.5,538.7v-4.5 M94.5,299.0v4.5 M131.3,538.7v-4.5 M131.3,299.0v4.5 M168.1,538.7v-4.5 M168.1,299.0v4.5 M204.9,538.7v-4.5 M204.9,299.0v4.5 M241.7,538.7v-4.5 M241.7,299.0v4.5 M278.4,538.7v-4.5 M278.4,299.0v4.5 M315.2,538.7v-4.5 M315.2,299.0v4.5 M352.0,538.7v-4.5 M352.0,299.0v4.5 M388.8,538.7v-4.5 M388.8,299.0v4.5 M94.5,538.7h4.5 M388.8,538.7h-4.5 M94.5,511.4h2.5 M388.8,511.4h-2.5 M94.5,484.1h4.5 M388.8,484.1h-4.5 M94.5,456.8h2.5 M388.8,456.8h-2.5 M94.5,429.5h4.5 M388.8,429.5h-4.5 M94.5,402.2h2.5 M388.8,402.2h-2.5 M94.5,374.9h4.5 M388.8,374.9h-4.5 M94.5,347.6h2.5 M388.8,347.6h-2.5 M94.5,320.3h4.5 M388.8,320.3h-4.5"/>
</g>
<text x="94.5" y="557.2" font-family="Liberation Sans, sans-serif" font-size="16.9" font-weight="bold" text-anchor="middle">4.0</text>
<text x="131.3" y="557.2" font-family="Liberation Sans, sans-serif" font-size="16.9" font-weight="bold" text-anchor="middle">4.5</text>
<text x="168.1" y="557.2" font-family="Liberation Sans, sans-serif" font-size="16.9" font-weight="bold" text-anchor="middle">5.0</text>
<text x="204.9" y="557.2" font-family="Liberation Sans, sans-serif" font-size="16.9" font-weight="bold" text-anchor="middle">5.5</text>
<text x="241.7" y="557.2" font-family="Liberation Sans, sans-serif" font-size="16.9" font-weight="bold" text-anchor="middle">6.0</text>
<text x="278.4" y="557.2" font-family="Liberation Sans, sans-serif" font-size="16.9" font-weight="bold" text-anchor="middle">6.5</text>
<text x="315.2" y="557.2" font-family="Liberation Sans, sans-serif" font-size="16.9" font-weight="bold" text-anchor="middle">7.0</text>
<text x="352.0" y="557.2" font-family="Liberation Sans, sans-serif" font-size="16.9" font-weight="bold" text-anchor="middle">7.5</text>
<text x="388.8" y="557.2" font-family="Liberation Sans, sans-serif" font-size="16.9" font-weight="bold" text-anchor="middle">8.0</text>
<text x="80.6" y="489.3" font-family="Liberation Sans, sans-serif" font-size="13.8" font-weight="bold" text-anchor="end">1x10</text>
<text x="80.6" y="482.6" font-family="Liberation Sans, sans-serif" font-size="8.4" font-weight="bold">13</text>
<text x="80.6" y="434.7" font-family="Liberation Sans, sans-serif" font-size="13.8" font-weight="bold" text-anchor="end">2x10</text>
<text x="80.6" y="428.0" font-family="Liberation Sans, sans-serif" font-size="8.4" font-weight="bold">13</text>
<text x="80.6" y="380.1" font-family="Liberation Sans, sans-serif" font-size="13.8" font-weight="bold" text-anchor="end">3x10</text>
<text x="80.6" y="373.4" font-family="Liberation Sans, sans-serif" font-size="8.4" font-weight="bold">13</text>
<text x="80.6" y="325.5" font-family="Liberation Sans, sans-serif" font-size="13.8" font-weight="bold" text-anchor="end">4x10</text>
<text x="80.6" y="318.8" font-family="Liberation Sans, sans-serif" font-size="8.4" font-weight="bold">13</text>
<text x="244.8" y="584.7" font-family="Liberation Sans, sans-serif" font-size="16.0" font-weight="bold" text-anchor="middle">Photon Energy [eV]</text>
<text transform="translate(41.0,425) rotate(-90)" font-family="Liberation Sans, sans-serif" font-size="16.75" font-weight="bold" text-anchor="middle"><tspan font-style="italic">(ahv)</tspan><tspan font-size="11" dy="-5.5">2</tspan><tspan dy="5.5"> [eV</tspan><tspan font-size="11" dy="-5.5">2</tspan><tspan dy="5.5">/cm</tspan><tspan font-size="11" dy="-5.5">2</tspan><tspan dy="5.5">]</tspan></text>
<text x="-1" y="300" font-family="Liberation Sans, sans-serif" font-size="16.5">(b)</text>
<rect x="128.8" y="324.4" width="5.4" height="5.5" fill="#000"/>
<path d="M131.2,342.2 L135.2,346.2 L131.2,350.2 L127.2,346.2Z" fill="#ff0000"/>
<path d="M131.2,362 L135.4,370 L127,370Z" fill="#00ff00"/>
<path d="M127,384.4 L135.4,384.4 L131.2,392.6Z" fill="#d0008c"/>
<text x="148.6" y="331.8" font-family="Liberation Sans, sans-serif" font-size="15.7" font-weight="bold">untreated</text>
<text x="148.6" y="351.3" font-family="Liberation Sans, sans-serif" font-size="15.7" font-weight="bold">F_5 min</text>
<text x="148.6" y="371.2" font-family="Liberation Sans, sans-serif" font-size="15.7" font-weight="bold">F_10 min</text>
<text x="148.6" y="391.2" font-family="Liberation Sans, sans-serif" font-size="15.7" font-weight="bold">F_30 min</text>
<text x="225.3" y="477.5" font-family="Liberation Sans, sans-serif" font-size="16.1" font-weight="bold" fill="#000">5.48 eV</text>
<text x="231.8" y="533.2" font-family="Liberation Sans, sans-serif" font-size="14.5" font-weight="bold" fill="#ff0000">6.53 eV</text>
<text x="315.5" y="511.0" font-family="Liberation Sans, sans-serif" font-size="16.2" font-weight="bold" fill="#00c800">6.78 eV</text>
<text x="320.7" y="533.8" font-family="Liberation Sans, sans-serif" font-size="16.3" font-weight="bold" fill="#d0008c">6.83eV</text>
</svg>
</body></html>
